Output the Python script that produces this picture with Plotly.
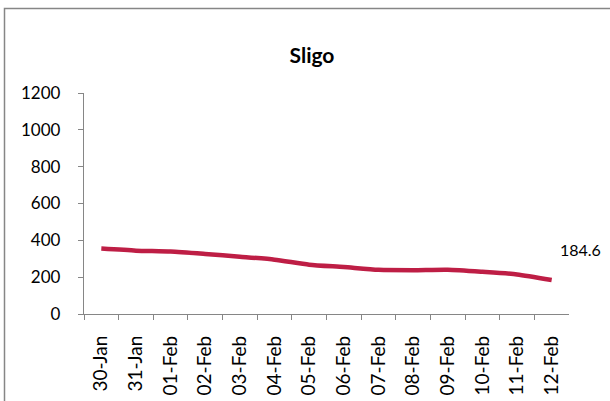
from plotly import graph_objects as go

W, H = 610, 401

dates = [
    "30-Jan", "31-Jan", "01-Feb", "02-Feb", "03-Feb", "04-Feb", "05-Feb",
    "06-Feb", "07-Feb", "08-Feb", "09-Feb", "10-Feb", "11-Feb", "12-Feb",
]
values = [355, 344, 339, 326, 311, 295, 268, 255, 240, 238, 240, 229, 215, 184.6]
y_ticks = [0, 200, 400, 600, 800, 1000, 1200]

FONT = "Lato, Open Sans, sans-serif"
AXIS_GREY = "#868686"


def px_x(p):
    return p / W


def px_y(p):
    return 1 - p / H


fig = go.Figure()
fig.add_trace(
    go.Scatter(
        x=dates,
        y=values,
        mode="lines",
        line=dict(color="#BE1E45", width=4.5, shape="spline", smoothing=0.6),
        hoverinfo="x+y",
        showlegend=False,
    )
)

# label on the last point only
fig.add_annotation(
    x=dates[-1],
    y=values[-1],
    text=f"{values[-1]}",
    showarrow=False,
    xanchor="left",
    yanchor="middle",
    xshift=6,
    yshift=31,
    font=dict(family=FONT, size=16, color="#000000"),
)

fig.update_xaxes(
    type="category",
    range=[-0.5, len(dates) - 0.5],
    domain=[px_x(84), px_x(569)],
    automargin=False,
    tickson="boundaries",
    ticks="outside",
    ticklen=5,
    tickcolor=AXIS_GREY,
    showline=True,
    linecolor=AXIS_GREY,
    linewidth=1.3,
    showgrid=False,
    tickangle=-90,
    ticklabelstandoff=13,
    tickfont=dict(family=FONT, size=19, color="#000000"),
    fixedrange=True,
)
fig.update_yaxes(
    domain=[px_y(314), px_y(93)],
    range=[0, 1200],
    automargin=False,
    tickvals=y_ticks,
    ticks="outside",
    ticklen=5,
    tickcolor=AXIS_GREY,
    showline=True,
    linecolor=AXIS_GREY,
    linewidth=1.3,
    showgrid=False,
    zeroline=False,
    ticklabelstandoff=14,
    tickfont=dict(family=FONT, size=17, color="#000000"),
    fixedrange=True,
)

# chart-area border (runs off the right and bottom edges)
fig.add_shape(
    type="rect",
    xref="paper",
    yref="paper",
    x0=px_x(4.5),
    x1=px_x(W + 10),
    y0=px_y(H + 10),
    y1=px_y(8.5),
    line=dict(color=AXIS_GREY, width=1.5),
    layer="below",
)

fig.update_layout(
    width=W,
    height=H,
    margin=dict(t=0, l=0, b=0, r=0),
    template="plotly_white",
    plot_bgcolor="white",
    paper_bgcolor="white",
    title=dict(
        text="<b>Sligo</b>",
        x=px_x(312),
        y=px_y(56),
        xanchor="center",
        yanchor="middle",
        font=dict(family=FONT, size=21, color="#000000"),
    ),
)

# the default page has an 8px body margin; drop it so the figure sits at 0,0
fig.write_html(
    "out.html",
    config={"displayModeBar": False, "responsive": False},
    post_script="document.body.style.margin = '0'; document.body.style.overflow = 'hidden';",
)
